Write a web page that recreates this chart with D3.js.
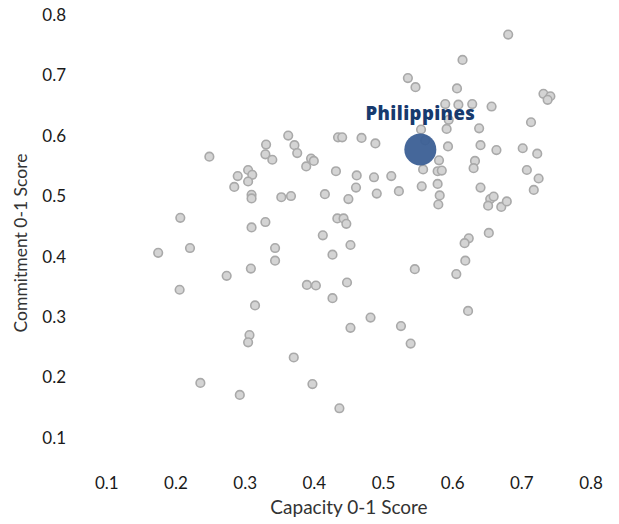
<!DOCTYPE html>
<html>
<head>
<meta charset="utf-8">
<script src="https://cdn.jsdelivr.net/npm/d3@7"></script>
<style>
  html, body { margin: 0; padding: 0; background: #fff; }
  svg text { font-family: Lato, "Open Sans", sans-serif; }
</style>
</head>
<body>
<svg id="chart" width="619" height="524"></svg>
<script>
// Capacity (x) and Commitment (y) scores
const capacity = [
  0.681,0.615,0.536,0.547,0.607,0.732,0.742,0.738,0.590,0.609,
  0.629,0.657,0.595,0.714,0.555,0.592,0.639,0.435,0.441,0.469,
  0.489,0.561,0.594,0.641,0.664,0.702,0.723,0.581,0.633,0.558,
  0.579,0.585,0.631,0.708,0.725,0.718,0.432,0.462,0.487,0.512,
  0.579,0.556,0.641,0.461,0.416,0.450,0.491,0.523,0.582,0.580,
  0.655,0.660,0.652,0.671,0.679,0.434,0.443,0.447,0.413,0.453,
  0.427,0.653,0.624,0.618,0.619,0.546,0.606,0.390,0.403,0.448,
  0.427,0.623,0.482,0.453,0.526,0.540,0.398,0.437,0.371,0.363,
  0.331,0.372,0.330,0.376,0.340,0.396,0.400,0.389,0.249,0.290,
  0.305,0.311,0.305,0.285,0.310,0.310,0.353,0.367,0.310,0.330,
  0.344,0.344,0.309,0.207,0.175,0.221,0.274,0.206,0.315,0.307,
  0.305,0.236,0.293
];
const commitment = [
  0.766,0.724,0.694,0.679,0.677,0.668,0.664,0.658,0.651,0.650,
  0.651,0.647,0.625,0.621,0.609,0.610,0.611,0.596,0.596,0.595,
  0.586,0.591,0.581,0.583,0.575,0.578,0.569,0.558,0.557,0.543,
  0.540,0.541,0.545,0.542,0.528,0.509,0.540,0.533,0.530,0.532,
  0.519,0.515,0.513,0.513,0.502,0.494,0.503,0.507,0.500,0.485,
  0.494,0.498,0.483,0.481,0.490,0.462,0.462,0.453,0.434,0.418,
  0.402,0.438,0.429,0.421,0.392,0.378,0.370,0.352,0.351,0.356,
  0.330,0.309,0.298,0.281,0.284,0.255,0.188,0.148,0.232,0.599,
  0.584,0.583,0.568,0.570,0.559,0.561,0.557,0.548,0.564,0.532,
  0.542,0.534,0.523,0.514,0.501,0.495,0.497,0.499,0.447,0.456,
  0.413,0.392,0.379,0.463,0.405,0.413,0.367,0.344,0.318,0.269,
  0.257,0.190,0.170
];
const highlightName = "Philippines";
const highlightCapacity = 0.554;
const highlightCommitment = 0.576;
const xTicks = [0.1,0.2,0.3,0.4,0.5,0.6,0.7,0.8];
const yTicks = [0.1,0.2,0.3,0.4,0.5,0.6,0.7,0.8];
const xTitle = "Capacity 0-1 Score";
const yTitle = "Commitment 0-1 Score";

const svg = d3.select("#chart");
const x = d3.scaleLinear().domain([0.1, 0.8]).range([106.3, 590.5]);
const y = d3.scaleLinear().domain([0.1, 0.8]).range([437.3, 14]);

const fmt = d3.format(".1f");

// X axis (labels only)
const xAxis = d3.axisBottom(x).tickValues(xTicks).tickFormat(fmt).tickSize(0).tickPadding(0);
const gx = svg.append("g").attr("transform", "translate(0,477)").call(xAxis);
gx.select(".domain").remove();
gx.selectAll("text").attr("fill", "#1a1a1a").style("font-size", "17px").attr("dy", "0.71em");

// Y axis (labels only)
const yAxis = d3.axisLeft(y).tickValues(yTicks).tickFormat(fmt).tickSize(0).tickPadding(0);
const gy = svg.append("g").attr("transform", "translate(66,0)").call(yAxis);
gy.select(".domain").remove();
gy.selectAll("text").attr("fill", "#1a1a1a").style("font-size", "17px").attr("dy", "0.36em");

// Axis titles
svg.append("text")
  .attr("x", 349).attr("y", 514)
  .attr("text-anchor", "middle")
  .attr("fill", "#333").style("font-size", "19px")
  .text(xTitle);
svg.append("text")
  .attr("transform", "translate(27,243) rotate(-90)")
  .attr("text-anchor", "middle")
  .attr("fill", "#333").style("font-size", "17.5px")
  .text(yTitle);

// Points
const data = capacity.map((c, i) => ({c, m: commitment[i]}));
svg.append("g").selectAll("circle").data(data).join("circle")
  .attr("cx", d => x(d.c))
  .attr("cy", d => y(d.m))
  .attr("r", 4.3)
  .attr("fill", "#d4d4d4")
  .attr("stroke", "#a9a9a9")
  .attr("stroke-width", 1.6);

// Highlight
svg.append("circle")
  .attr("cx", x(highlightCapacity))
  .attr("cy", y(highlightCommitment))
  .attr("r", 16)
  .attr("fill", "#3b5f95")
  .attr("fill-opacity", 0.95);

svg.append("text")
  .attr("x", x(highlightCapacity))
  .attr("y", 119.5)
  .attr("text-anchor", "middle")
  .attr("fill", "#173a6e")
  .style("font-family", "'Open Sans', sans-serif")
  .style("font-size", "18.5px")
  .style("font-weight", "800")
  .style("letter-spacing", "0.4px")
  .text(highlightName);
</script>
</body>
</html>
